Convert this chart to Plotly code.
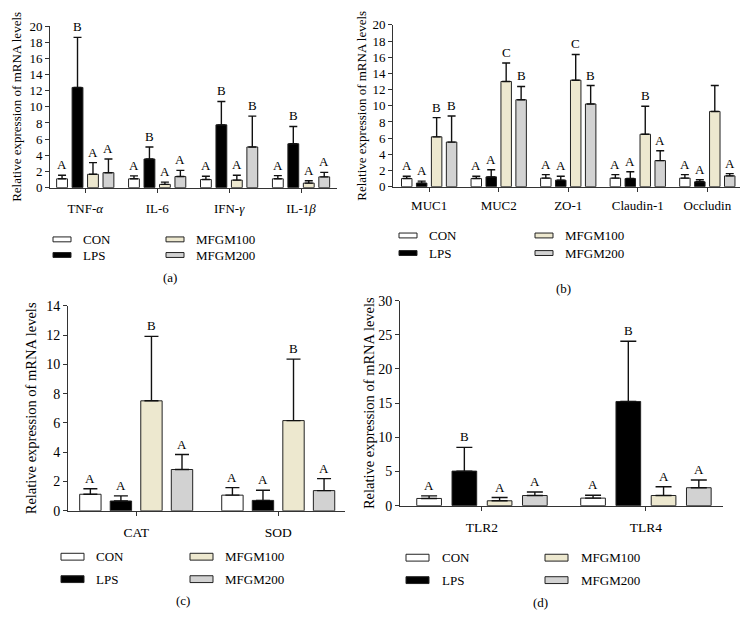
import plotly.graph_objects as go

W, H = 749, 635
FONT = "Liberation Serif, Times New Roman, serif"
TXT = "#000000"

groups = ["CON", "LPS", "MFGM100", "MFGM200"]
colors = ["#ffffff", "#000000", "#ede8cf", "#d2d2d2"]

# Panel (a)
a_cats = ["TNF-<i>α</i>", "IL-6", "IFN-<i>γ</i>", "IL-1<i>β</i>"]
a_vals = {
    "CON": [1.09, 1.09, 1.00, 1.09],
    "LPS": [12.4, 3.54, 7.77, 5.43],
    "MFGM100": [1.65, 0.40, 0.93, 0.56],
    "MFGM200": [1.85, 1.37, 5.03, 1.33],
}
a_err = {
    "CON": [0.44, 0.36, 0.40, 0.40],
    "LPS": [6.2, 1.49, 2.89, 2.14],
    "MFGM100": [1.45, 0.28, 0.60, 0.29],
    "MFGM200": [1.69, 0.76, 3.82, 0.56],
}
a_letters = {
    "CON": ["A", "A", "A", "A"],
    "LPS": ["B", "B", "B", "B"],
    "MFGM100": ["A", "A", "A", "A"],
    "MFGM200": ["A", "A", "B", "A"],
}

# Panel (b)
b_cats = ["MUC1", "MUC2", "ZO-1", "Claudin-1", "Occludin"]
b_vals = {
    "CON": [1.00, 1.00, 1.05, 1.05, 1.05],
    "LPS": [0.44, 1.21, 0.80, 1.00, 0.60],
    "MFGM100": [6.16, 13.0, 13.16, 6.48, 9.30],
    "MFGM200": [5.51, 10.74, 10.22, 3.22, 1.33],
}
b_err = {
    "CON": [0.29, 0.29, 0.44, 0.44, 0.44],
    "LPS": [0.24, 0.88, 0.49, 0.85, 0.25],
    "MFGM100": [2.37, 2.29, 3.18, 3.46, 3.20],
    "MFGM200": [3.22, 1.65, 2.28, 1.21, 0.28],
}
b_letters = {
    "CON": ["A", "A", "A", "A", "A"],
    "LPS": ["A", "A", "A", "A", "A"],
    "MFGM100": ["B", "C", "C", "B", ""],
    "MFGM200": ["B", "B", "B", "A", "A"],
}

# Panel (c)
c_cats = ["CAT", "SOD"]
c_vals = {
    "CON": [1.13, 1.07],
    "LPS": [0.67, 0.71],
    "MFGM100": [7.51, 6.16],
    "MFGM200": [2.82, 1.38],
}
c_err = {
    "CON": [0.38, 0.51],
    "LPS": [0.35, 0.69],
    "MFGM100": [4.40, 4.20],
    "MFGM200": [1.02, 0.82],
}
c_letters = {
    "CON": ["A", "A"],
    "LPS": ["A", "A"],
    "MFGM100": ["B", "B"],
    "MFGM200": ["A", "A"],
}

# Panel (d)
d_cats = ["TLR2", "TLR4"]
d_vals = {
    "CON": [1.05, 1.10],
    "LPS": [5.05, 15.24],
    "MFGM100": [0.71, 1.48],
    "MFGM200": [1.48, 2.62],
}
d_err = {
    "CON": [0.38, 0.42],
    "LPS": [3.47, 8.81],
    "MFGM100": [0.48, 1.28],
    "MFGM200": [0.52, 1.14],
}
d_letters = {
    "CON": ["A", "A"],
    "LPS": ["B", "B"],
    "MFGM100": ["A", "A"],
    "MFGM200": ["A", "A"],
}

y_title = "Relative expression of mRNA levels"

BARGAP = 0.14
BARGROUPGAP = 0.3


def px_x(v):
    return v / W


def px_y(v):
    return 1 - v / H


panels = [
    dict(key="", cats=a_cats, vals=a_vals, err=a_err, letters=a_letters,
         xd=(50, 337), yd=(185, 19.5), xr=[-0.49, 3.5], yr=[0, 20], dt=2,
         capw=4, tickfs=13, catfs=13, titlefs=13, title_x=17, standoff=5,
         leg=dict(x1=53, x2=166, y1=238, y2=254, sw=18, sh=5, tx=10, fs=13),
         lab=("(a)", 170, 277)),
    dict(key="2", cats=b_cats, vals=b_vals, err=b_err, letters=b_letters,
         xd=(393, 740), yd=(184, 18.3), xr=[-0.52, 4.47], yr=[0, 20], dt=2,
         capw=4, tickfs=13, catfs=13, titlefs=13, title_x=362, standoff=3,
         leg=dict(x1=399, x2=535, y1=234, y2=252, sw=18, sh=5, tx=10, fs=13),
         lab=("(b)", 563, 288)),
    dict(key="3", cats=c_cats, vals=c_vals, err=c_err, letters=c_letters,
         xd=(68, 345), yd=(516, 306), xr=[-0.48, 1.47], yr=[0, 14], dt=2,
         capw=7, tickfs=14, catfs=13.5, titlefs=14.5, title_x=31, standoff=5,
         leg=dict(x1=61, x2=190, y1=563, y2=586, sw=23, sh=7, tx=10, fs=13),
         lab=("(c)", 183, 608)),
    dict(key="4", cats=d_cats, vals=d_vals, err=d_err, letters=d_letters,
         xd=(400, 723), yd=(510.7, 300.7), xr=[-0.5, 1.47], yr=[0, 30], dt=5,
         capw=8, tickfs=14, catfs=13.5, titlefs=14.5, title_x=369, standoff=5,
         leg=dict(x1=406, x2=545, y1=564, y2=587, sw=23, sh=7, tx=11, fs=13),
         lab=("(d)", 540, 610)),
]

fig = go.Figure()
annotations = []
shapes = []
layout = {}

pitch = (1 - BARGAP) / len(groups)

for p in panels:
    k = p["key"]
    xa = "x" + k
    ya = "y" + k
    idx = list(range(len(p["cats"])))
    for g, col in zip(groups, colors):
        fig.add_trace(go.Bar(
            x=idx, y=p["vals"][g], name=g, showlegend=False,
            marker=dict(color=col, line=dict(color="#222222", width=1)),
            error_y=dict(type="data", array=p["err"][g],
                         arrayminus=[0] * len(idx), symmetric=False,
                         color="#111111", thickness=1.4, width=p["capw"]),
            xaxis=xa, yaxis=ya,
        ))
    # letters
    for j, g in enumerate(groups):
        off = (j - 1.5) * pitch
        for i in idx:
            t = p["letters"][g][i]
            if not t:
                continue
            annotations.append(dict(
                x=i + off, y=p["vals"][g][i] + p["err"][g][i],
                xref=xa, yref=ya, text=t, showarrow=False,
                yanchor="bottom", yshift=1,
                font=dict(family=FONT, size=13, color=TXT)))
    xd = p["xd"]
    yd = p["yd"]
    layout["xaxis" + k] = dict(
        domain=[px_x(xd[0]), px_x(xd[1])], range=p["xr"], anchor=ya,
        tickmode="array", tickvals=idx, ticktext=p["cats"],
        showline=True, linecolor="#333333", linewidth=1,
        ticks="outside", ticklen=4, tickcolor="#333333",
        showgrid=False, zeroline=False, fixedrange=True,
        ticklabelstandoff=p["standoff"],
        tickfont=dict(family=FONT, size=p["catfs"], color=TXT))
    layout["yaxis" + k] = dict(
        domain=[px_y(yd[0]), px_y(yd[1])], range=p["yr"], anchor=xa,
        tickmode="linear", tick0=0, dtick=p["dt"],
        showline=True, linecolor="#333333", linewidth=1,
        ticks="outside", ticklen=4, tickcolor="#333333",
        showgrid=False, zeroline=False, fixedrange=True,
        tickfont=dict(family=FONT, size=p["tickfs"], color=TXT))
    # y title
    annotations.append(dict(
        x=px_x(p["title_x"]), y=px_y((yd[0] + yd[1]) / 2),
        xref="paper", yref="paper", text=y_title, textangle=-90,
        showarrow=False, xanchor="center", yanchor="middle",
        font=dict(family=FONT, size=p["titlefs"], color=TXT)))
    # legend
    L = p["leg"]
    pos = [(L["x1"], L["y1"]), (L["x1"], L["y2"]),
           (L["x2"], L["y1"]), (L["x2"], L["y2"])]
    for (lx, ly), g, col in zip(pos, groups, colors):
        shapes.append(dict(
            type="rect", xref="paper", yref="paper",
            x0=px_x(lx), x1=px_x(lx + L["sw"]),
            y0=px_y(ly + L["sh"] / 2), y1=px_y(ly - L["sh"] / 2),
            fillcolor=col, line=dict(color="#222222", width=1)))
        annotations.append(dict(
            x=px_x(lx + L["sw"] + L["tx"]), y=px_y(ly),
            xref="paper", yref="paper", text=g, showarrow=False,
            xanchor="left", yanchor="middle",
            font=dict(family=FONT, size=L["fs"], color=TXT)))
    lab, lx, ly = p["lab"]
    annotations.append(dict(
        x=px_x(lx), y=px_y(ly), xref="paper", yref="paper", text=lab,
        showarrow=False, xanchor="center", yanchor="middle",
        font=dict(family=FONT, size=13, color=TXT)))

fig.update_layout(
    width=W, height=H,
    margin=dict(l=0, r=0, t=0, b=0),
    paper_bgcolor="white", plot_bgcolor="white",
    barmode="group", bargap=BARGAP, bargroupgap=BARGROUPGAP,
    showlegend=False,
    annotations=annotations, shapes=shapes,
    **layout,
)

fig.write_html(
    "out.html",
    config={"displayModeBar": False},
    post_script="document.body.style.margin='0px';document.body.style.overflow='hidden';",
)
